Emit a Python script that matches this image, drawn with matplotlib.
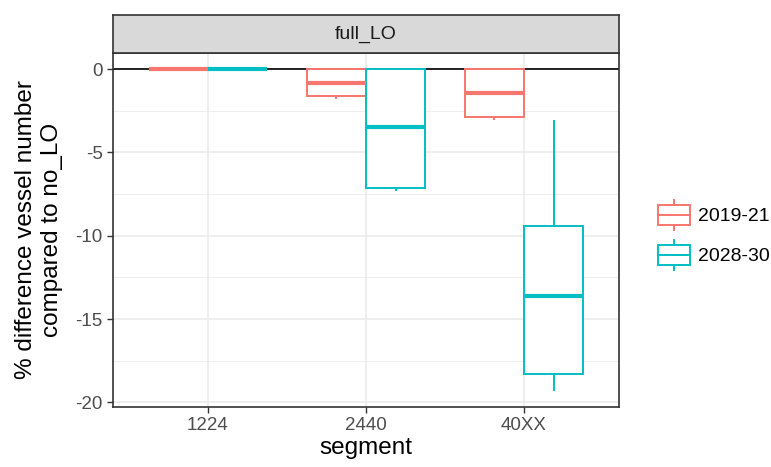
import numpy as np
import matplotlib.pyplot as plt
from matplotlib.legend_handler import HandlerBase
from matplotlib.patches import Rectangle
from matplotlib.lines import Line2D

plt.rcParams['font.family'] = ['Liberation Sans', 'DejaVu Sans']
plt.rcParams['axes.unicode_minus'] = False

segments = ['1224', '2440', '40XX']
periods = ['2019-21', '2028-30']
colors = ['#F8766D', '#00BFC4']

# box stats per period, per segment: whislo, q1, med, q3, whishi
whislo = {'2019-21': [0.0, -1.75, -3.0], '2028-30': [0.0, -7.27, -19.28]}
q1 = {'2019-21': [0.0, -1.62, -2.88], '2028-30': [0.0, -7.15, -18.32]}
med = {'2019-21': [0.0, -0.84, -1.44], '2028-30': [0.0, -3.48, -13.63]}
q3 = {'2019-21': [0.0, 0.0, 0.0], '2028-30': [0.0, 0.0, -9.43]}
whishi = {'2019-21': [0.0, 0.0, 0.0], '2028-30': [0.0, 0.0, -3.12]}

fig = plt.figure(figsize=(7.71, 4.67), dpi=100)
ax = fig.add_axes([0.1466, 0.1285, 0.656, 0.758])

grid_c = '#EBEBEB'
for y in [-17.5, -12.5, -7.5, -2.5]:
    ax.axhline(y, color=grid_c, lw=0.6, zorder=0)
for y in [-20, -15, -10, -5, 0]:
    ax.axhline(y, color=grid_c, lw=1.2, zorder=0)
for x in range(1, len(segments) + 1):
    ax.axvline(x, color=grid_c, lw=1.2, zorder=0)

ax.axhline(0, color='black', lw=1.2, zorder=1)

xpos = np.arange(1, len(segments) + 1)
width = 0.375
for k, (p, c) in enumerate(zip(periods, colors)):
    stats = []
    for i in range(len(segments)):
        stats.append(dict(whislo=whislo[p][i], q1=q1[p][i], med=med[p][i],
                          q3=q3[p][i], whishi=whishi[p][i], fliers=[]))
    pos = xpos + (k - 0.5) * width
    ax.bxp(stats, positions=pos, widths=width, showcaps=False, showfliers=False,
           patch_artist=True,
           boxprops=dict(facecolor='white', edgecolor=c, lw=1.4),
           whiskerprops=dict(color=c, lw=1.4),
           medianprops=dict(color=c, lw=3, solid_capstyle='butt'),
           manage_ticks=False, zorder=2)

ax.set_xlim(0.4, 3.6)
ax.set_ylim(-20.27, 0.965)
ax.set_xticks(xpos)
ax.set_xticklabels(segments)
ax.set_yticks([-20, -15, -10, -5, 0])
ax.tick_params(colors='#333333', labelcolor='#4D4D4D', labelsize=13.5, length=4, width=1)
for s in ax.spines.values():
    s.set_color('#333333')
    s.set_linewidth(1.2)

ax.set_xlabel('segment', fontsize=17.5, labelpad=2)
ax.set_ylabel('% difference vessel number\ncompared to no_LO', fontsize=17.5, labelpad=9)

# facet strip
strip = fig.add_axes([0.1466, 0.8865, 0.656, 0.0815])
strip.set_facecolor('#D9D9D9')
strip.set_xticks([])
strip.set_yticks([])
for s in strip.spines.values():
    s.set_color('#333333')
    s.set_linewidth(1.2)
strip.text(0.5, 0.5, 'full_LO', ha='center', va='center', fontsize=14, color='#1A1A1A')


class BoxHandler(HandlerBase):
    def create_artists(self, legend, orig, xd, yd, width, height, fontsize, trans):
        c = orig.get_color()
        x0, y0 = -xd, -yd
        rect = Rectangle((x0, y0 + height * 0.17), width, height * 0.66,
                         facecolor='white', edgecolor=c, lw=1.4, transform=trans)
        mid = Line2D([x0, x0 + width], [y0 + height / 2] * 2, color=c, lw=1.4, transform=trans)
        top = Line2D([x0 + width / 2] * 2, [y0 + height * 0.83, y0 + height],
                     color=c, lw=1.4, transform=trans)
        bot = Line2D([x0 + width / 2] * 2, [y0 + height * 0.17, y0],
                     color=c, lw=1.4, transform=trans)
        return [rect, mid, top, bot]


handles = [Line2D([], [], color=c) for c in colors]
fig.legend(handles, periods, handler_map={Line2D: BoxHandler(xpad=0, ypad=0)},
           loc='center left', bbox_to_anchor=(0.843, 0.497), frameon=False,
           fontsize=14, handlelength=1.65, handleheight=2.0, labelspacing=0.5,
           handletextpad=0.41, borderaxespad=0)

fig.savefig('out.png', dpi=100)
